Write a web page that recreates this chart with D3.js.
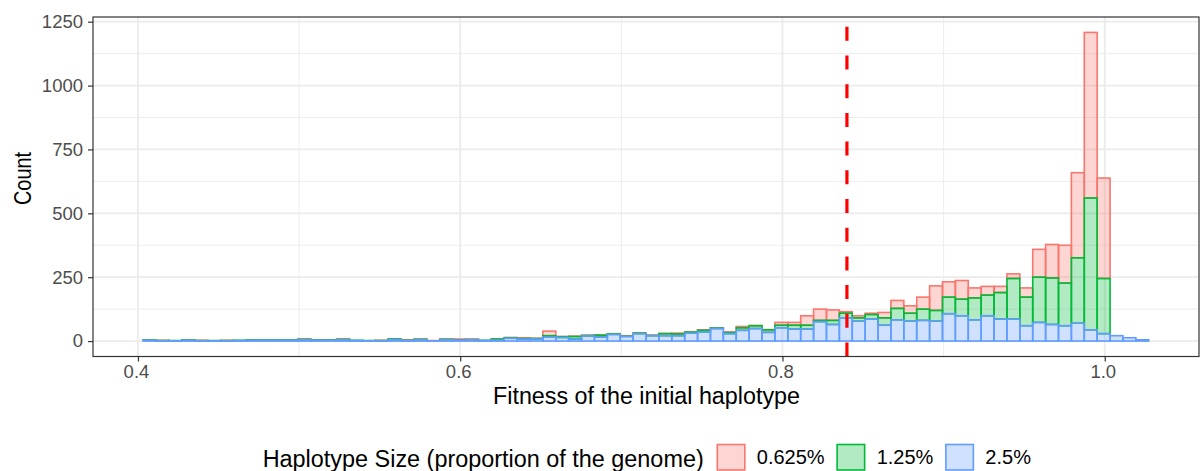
<!DOCTYPE html>
<html>
<head>
<meta charset="utf-8">
<script src="https://cdn.jsdelivr.net/npm/d3@7.9.0/dist/d3.min.js"></script>
<style>
  body { margin: 0; background: #fff; }
  svg { display: block; font-family: "Liberation Sans", Arial, Helvetica, sans-serif; }
</style>
</head>
<body>
<div id="chart"></div>
<script>
// histogram bins
const binStart = 0.4033;
const binWidth = 0.008;

const groups = ['0.625%', '1.25%', '2.5%'];
const groupColors = ['#F8766D', '#00BA38', '#619CFF'];

// counts per bin, one array per haplotype size
const counts2_5 = [3,1,1,3,1,1,1,2,3,3,3,3,5,3,3,5,2,1,1,6,2,5,1,5,4,5,2,4,11,8,8,16,14,8,20,16,26,18,29,21,21,21,31,36,49,29,42,49,34,52,47,47,76,65,91,78,86,62,83,78,81,78,107,99,83,99,86,86,60,73,65,60,70,44,29,21,13,5];
const counts1_25 = [1,1,1,1,1,1,1,1,1,1,1,1,2,1,1,2,1,1,1,2,1,2,0,2,1,1,1,4,2,2,2,5,3,10,2,7,2,1,2,1,8,7,4,6,2,4,10,11,10,10,15,15,5,16,18,13,18,29,45,31,44,42,65,65,86,81,104,159,112,177,182,167,256,516,216,0,0,0];
const counts0_625 = [1,1,0,1,1,0,1,0,1,1,1,1,1,1,1,1,0,0,1,1,2,1,1,1,3,2,0,1,1,3,1,18,1,1,1,1,1,2,1,1,1,3,1,2,1,3,5,1,1,11,11,37,44,41,6,8,5,21,31,29,47,96,60,73,39,34,24,18,36,109,131,148,333,648,393,0,0,0];

const cutoff = 0.84;

const xTicks = [0.4, 0.6, 0.8, 1.0];
const xMinor = [0.5, 0.7, 0.9];
const yTicks = [0, 250, 500, 750, 1000, 1250];
const yMinor = [125, 375, 625, 875, 1125];

const W = 1201, H = 471;
const panel = { left: 93, right: 1199, top: 17, bottom: 356.5 };

const rows = counts2_5.map((_, i) => ({
  x0: binStart + i * binWidth,
  x1: binStart + (i + 1) * binWidth,
  '2.5%': counts2_5[i],
  '1.25%': counts1_25[i],
  '0.625%': counts0_625[i]
}));

const stack = d3.stack().keys(['2.5%', '1.25%', '0.625%']);
const series = stack(rows);

const xMin = binStart, xMax = binStart + rows.length * binWidth;
const xPad = 0.05 * (xMax - xMin);
const x = d3.scaleLinear().domain([xMin - xPad, xMax + xPad]).range([panel.left, panel.right]);
const yMaxV = d3.max(series[series.length - 1], d => d[1]);
const y = d3.scaleLinear().domain([-0.05 * yMaxV, 1.05 * yMaxV]).range([panel.bottom, panel.top]);

const svg = d3.select('#chart').append('svg').attr('width', W).attr('height', H);

const plot = svg.append('g');
plot.append('rect')
  .attr('x', panel.left).attr('y', panel.top)
  .attr('width', panel.right - panel.left).attr('height', panel.bottom - panel.top)
  .attr('fill', '#fff');

// grid
plot.selectAll('.ymin').data(yMinor).enter().append('line')
  .attr('x1', panel.left).attr('x2', panel.right)
  .attr('y1', d => y(d)).attr('y2', d => y(d))
  .attr('stroke', '#ebebeb').attr('stroke-width', 0.9);
plot.selectAll('.xmin').data(xMinor).enter().append('line')
  .attr('y1', panel.top).attr('y2', panel.bottom)
  .attr('x1', d => x(d)).attr('x2', d => x(d))
  .attr('stroke', '#ebebeb').attr('stroke-width', 0.9);
plot.selectAll('.ymaj').data(yTicks).enter().append('line')
  .attr('x1', panel.left).attr('x2', panel.right)
  .attr('y1', d => y(d)).attr('y2', d => y(d))
  .attr('stroke', '#ebebeb').attr('stroke-width', 1.8);
plot.selectAll('.xmaj').data(xTicks).enter().append('line')
  .attr('y1', panel.top).attr('y2', panel.bottom)
  .attr('x1', d => x(d)).attr('x2', d => x(d))
  .attr('stroke', '#ebebeb').attr('stroke-width', 1.8);

// bars: top group drawn first, bottom group last
const drawOrder = ['0.625%', '1.25%', '2.5%'];
drawOrder.forEach(key => {
  const s = series.find(d => d.key === key);
  const col = groupColors[groups.indexOf(key)];
  const fill = d3.color(col); fill.opacity = 0.3;
  plot.append('g').selectAll('rect')
    .data(s.filter(d => d[1] - d[0] > 0))
    .enter().append('rect')
    .attr('x', d => x(d.data.x0))
    .attr('width', d => x(d.data.x1) - x(d.data.x0))
    .attr('y', d => y(d[1]))
    .attr('height', d => y(d[0]) - y(d[1]))
    .attr('fill', fill.toString())
    .attr('stroke', col)
    .attr('stroke-width', 1.6);
});

// cutoff line
plot.append('line')
  .attr('x1', x(cutoff)).attr('x2', x(cutoff))
  .attr('y1', panel.bottom).attr('y2', panel.top)
  .attr('stroke', '#ff0000').attr('stroke-width', 3.2)
  .attr('stroke-dasharray', '14,14.7');

// border
plot.append('rect')
  .attr('x', panel.left).attr('y', panel.top)
  .attr('width', panel.right - panel.left).attr('height', panel.bottom - panel.top)
  .attr('fill', 'none').attr('stroke', '#333').attr('stroke-width', 1.2);

// axes
const xAxis = svg.append('g').attr('transform', `translate(0,${panel.bottom})`)
  .call(d3.axisBottom(x).tickValues(xTicks).tickFormat(d3.format('.1f')).tickSize(5).tickPadding(4));
const yAxis = svg.append('g').attr('transform', `translate(${panel.left},0)`)
  .call(d3.axisLeft(y).tickValues(yTicks).tickFormat(d3.format('d')).tickSize(5).tickPadding(5));
[xAxis, yAxis].forEach(a => {
  a.select('.domain').remove();
  a.selectAll('.tick line').attr('stroke', '#333').attr('stroke-width', 1.2);
  a.selectAll('.tick text').attr('fill', '#4d4d4d').style('font-size', '18.5px')
    .style('font-family', '"Liberation Sans", Arial, sans-serif');
});
xAxis.selectAll('.tick text').attr('dy', null).attr('y', 0)
  .attr('transform', 'translate(-2,21)');

svg.append('text')
  .attr('x', 646.5).attr('y', 404)
  .attr('text-anchor', 'middle').style('font-size', '23.3px').attr('fill', '#000')
  .text('Fitness of the initial haplotype');
svg.append('text')
  .attr('transform', `translate(30.5,178.5) rotate(-90)`)
  .attr('text-anchor', 'middle').style('font-size', '23.5px').attr('fill', '#000')
  .attr('textLength', 53).attr('lengthAdjust', 'spacingAndGlyphs')
  .text('Count');

// legend
const legend = svg.append('g');
legend.append('text')
  .attr('x', 262.7).attr('y', 466.5).style('font-size', '23.3px').attr('fill', '#000')
  .attr('textLength', 441).attr('lengthAdjust', 'spacingAndGlyphs')
  .text('Haplotype Size (proportion of the genome)');
let cx = 262.7 + 441 + 13.6;
groups.forEach((g, i) => {
  const fill = d3.color(groupColors[i]); fill.opacity = 0.3;
  legend.append('rect')
    .attr('x', cx).attr('y', 444.5).attr('width', 27.5).attr('height', 25.5)
    .attr('fill', fill.toString()).attr('stroke', groupColors[i]).attr('stroke-width', 1.6);
  const t = legend.append('text')
    .attr('x', cx + 27.5 + 12).attr('y', 464.3).style('font-size', '20px').attr('fill', '#000')
    .text(g);
  cx += 27.5 + 12 + t.node().getComputedTextLength() + 12.5;
});
</script>
</body>
</html>
